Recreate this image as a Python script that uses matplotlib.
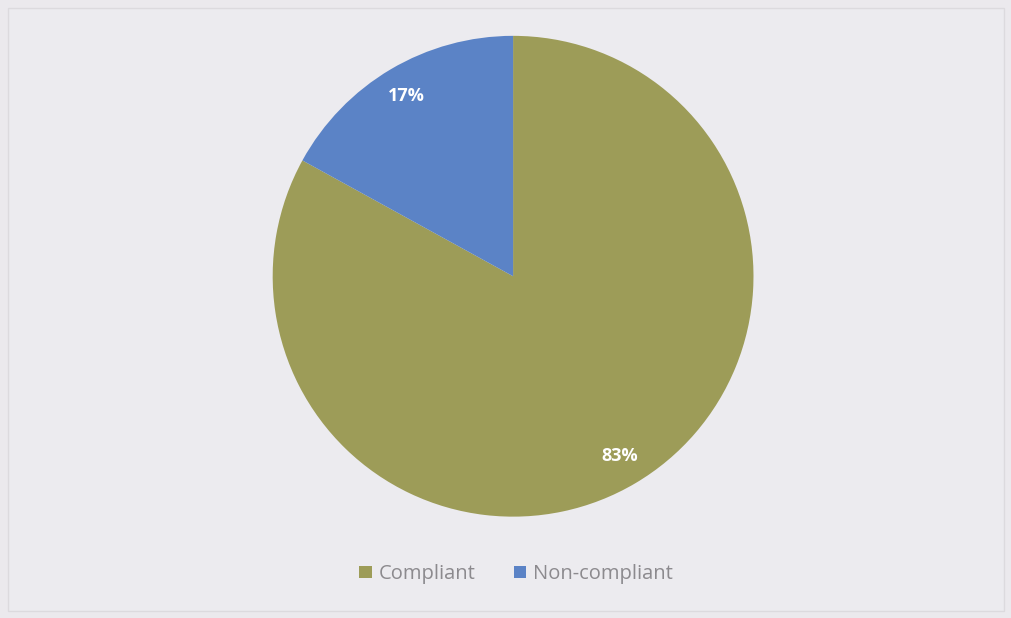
import matplotlib
matplotlib.use("Agg")
import matplotlib.pyplot as plt
from matplotlib.patches import Rectangle

labels = ['Compliant', 'Non-compliant']
values = [83, 17]
colors = ['#9d9c58', '#5b83c6']

plt.rcParams['font.family'] = ['Open Sans', 'DejaVu Sans']

fig = plt.figure(figsize=(10.12, 6.18), dpi=100, facecolor='#ebe9ed')
fig.patches.append(Rectangle((0.008, 0.012), 0.984, 0.975, transform=fig.transFigure,
                             facecolor='#ecebef', edgecolor='#dcdade', linewidth=1.0,
                             zorder=-10))

ax = fig.add_axes([0.507 - 0.238, 0.553 - 0.389, 0.476, 0.778])
wedges, texts = ax.pie(values, colors=colors, startangle=90, counterclock=False,
                       labels=[f'{v}%' for v in values], labeldistance=0.87,
                       wedgeprops=dict(linewidth=0))
for t in texts:
    t.set_color('white')
    t.set_fontweight('bold')
    t.set_fontsize(13)
    t.set_ha('center')
    t.set_va('center')
ax.set_xlim(-1, 1)
ax.set_ylim(-1, 1)

leg = fig.legend(wedges, labels, loc='center', bbox_to_anchor=(0.51, 0.071), ncol=2,
                 frameon=False, handlelength=0.6, handleheight=0.6, handletextpad=0.35,
                 columnspacing=1.9, fontsize=14.5)
for t in leg.get_texts():
    t.set_color('#8c8a8e')

fig.savefig('out.png', dpi=100, facecolor=fig.get_facecolor())
